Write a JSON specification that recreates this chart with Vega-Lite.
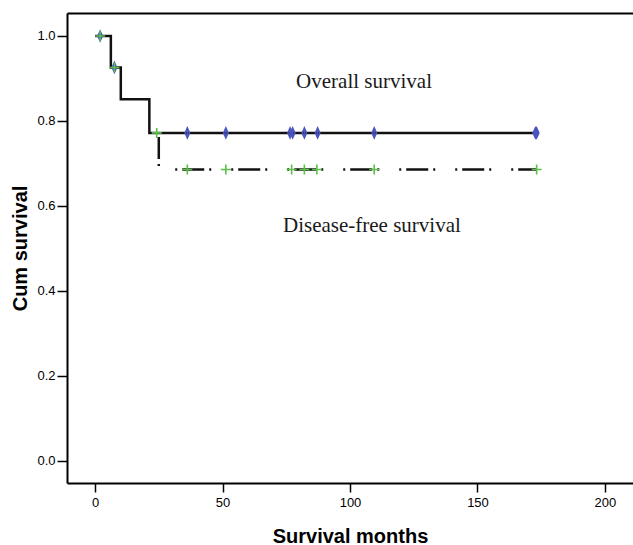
{
  "$schema": "https://vega.github.io/schema/vega-lite/v6.json",
  "width": 566,
  "height": 470,
  "autosize": {"type": "none"},
  "padding": {"left": 67, "top": 13, "right": 0, "bottom": 62},
  "background": "white",
  "config": {
    "view": {"stroke": null},
    "axis": {
      "grid": false,
      "domainColor": "#000",
      "domainWidth": 2,
      "tickColor": "#000",
      "tickWidth": 1.5,
      "tickSize": 9,
      "labelFont": "Liberation Sans",
      "labelFontSize": 13,
      "labelColor": "#000",
      "titleFont": "Liberation Sans",
      "titleFontSize": 20,
      "titleFontWeight": "bold",
      "titleColor": "#000"
    }
  },
  "datasets": {
    "overall": [
      {"t": 0, "s": 1.0},
      {"t": 6.2, "s": 0.926},
      {"t": 10.1, "s": 0.851},
      {"t": 21.3, "s": 0.772},
      {"t": 173.2, "s": 0.772}
    ],
    "dfs": [
      {"t": 25.0, "s": 0.772, "o": 1},
      {"t": 25.0, "s": 0.686, "o": 2},
      {"t": 173.2, "s": 0.686, "o": 3}
    ],
    "censorOverall": [
      {"t": 2, "s": 1.0},
      {"t": 7.6, "s": 0.926},
      {"t": 36.2, "s": 0.772},
      {"t": 51.3, "s": 0.772},
      {"t": 76.5, "s": 0.772},
      {"t": 77.5, "s": 0.772},
      {"t": 82.1, "s": 0.772},
      {"t": 87.3, "s": 0.772},
      {"t": 109.5, "s": 0.772},
      {"t": 172.7, "s": 0.772},
      {"t": 173.2, "s": 0.772}
    ],
    "censorDfs": [
      {"t": 2, "s": 1.0},
      {"t": 7.6, "s": 0.926},
      {"t": 24.2, "s": 0.772},
      {"t": 36.2, "s": 0.686},
      {"t": 51.3, "s": 0.686},
      {"t": 77.1, "s": 0.686},
      {"t": 82.1, "s": 0.686},
      {"t": 87.0, "s": 0.686},
      {"t": 109.5, "s": 0.686},
      {"t": 173.2, "s": 0.686}
    ],
    "labels": [
      {"label": "Overall survival", "t": 105.5, "s": 0.878},
      {"label": "Disease-free survival", "t": 108.6, "s": 0.5395}
    ]
  },
  "layer": [
    {
      "data": {"name": "overall"},
      "mark": {"type": "line", "interpolate": "step-after", "color": "#111", "strokeWidth": 2.5},
      "encoding": {
        "x": {"field": "t", "type": "quantitative", "scale": {"domain": [-11, 211], "nice": false, "zero": false},
              "axis": {"orient": "bottom", "values": [0, 50, 100, 150, 200], "title": "Survival months", "labelPadding": 4, "titlePadding": 17}},
        "y": {"field": "s", "type": "quantitative", "scale": {"domain": [-0.0518, 1.0541], "nice": false, "zero": false},
              "axis": {"values": [0, 0.2, 0.4, 0.6, 0.8, 1.0], "format": ".1f", "title": "Cum survival", "tickSize": 10, "labelPadding": 2, "titlePadding": 6}}
      }
    },
    {
      "data": {"name": "dfs"},
      "mark": {"type": "line", "color": "#111", "strokeWidth": 2.5, "strokeDash": [22, 5, 2, 20, 2, 5], "strokeDashOffset": 52, "strokeCap": "butt"},
      "encoding": {
        "x": {"field": "t", "type": "quantitative", "scale": {"domain": [-11, 211], "nice": false, "zero": false}, "axis": null},
        "y": {"field": "s", "type": "quantitative", "scale": {"domain": [-0.0518, 1.0541], "nice": false, "zero": false}},
        "order": {"field": "o"}
      }
    },
    {
      "data": {"name": "censorOverall"},
      "mark": {"type": "point", "shape": "M0,-1L0.45,0L0,1L-0.45,0Z M0,-1L0,1", "size": 100, "filled": false, "stroke": "#4a55c0", "strokeWidth": 1.5, "opacity": 1},
      "encoding": {
        "x": {"field": "t", "type": "quantitative", "scale": {"domain": [-11, 211], "nice": false, "zero": false}, "axis": null},
        "y": {"field": "s", "type": "quantitative", "scale": {"domain": [-0.0518, 1.0541], "nice": false, "zero": false}}
      }
    },
    {
      "data": {"name": "censorDfs"},
      "mark": {"type": "point", "shape": "M-1,0L1,0M0,-1L0,1", "size": 100, "filled": false, "stroke": "#5cbf4a", "strokeWidth": 1.6, "opacity": 1},
      "encoding": {
        "x": {"field": "t", "type": "quantitative", "scale": {"domain": [-11, 211], "nice": false, "zero": false}, "axis": null},
        "y": {"field": "s", "type": "quantitative", "scale": {"domain": [-0.0518, 1.0541], "nice": false, "zero": false}}
      }
    },
    {
      "data": {"name": "labels"},
      "mark": {"type": "text", "font": "Liberation Serif", "fontSize": 21, "color": "#1a1a1a", "align": "center", "baseline": "alphabetic"},
      "encoding": {
        "x": {"field": "t", "type": "quantitative", "scale": {"domain": [-11, 211], "nice": false, "zero": false},
              "axis": {"orient": "top", "domain": true, "ticks": false, "labels": false, "title": null}},
        "y": {"field": "s", "type": "quantitative", "scale": {"domain": [-0.0518, 1.0541], "nice": false, "zero": false}},
        "text": {"field": "label"}
      }
    }
  ],
  "resolve": {"axis": {"x": "independent"}}
}
